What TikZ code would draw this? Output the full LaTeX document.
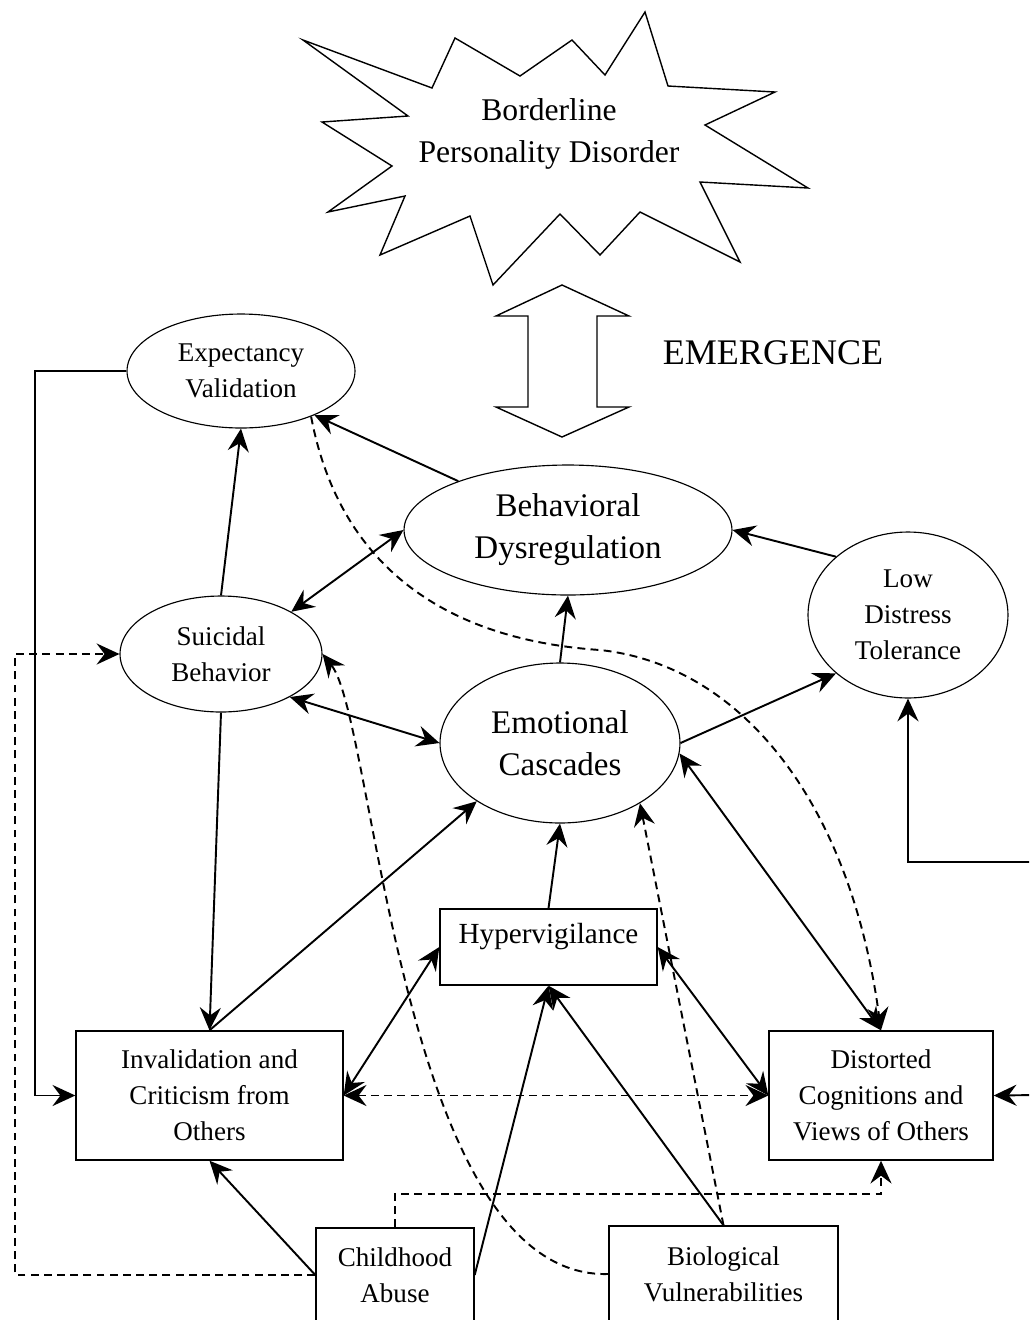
\documentclass[tikz,border=0pt]{standalone}
\usepackage{fontspec}
\setmainfont{Liberation Serif}
\usetikzlibrary{calc,positioning,arrows.meta,shapes.geometric}
\tikzset{
>={Stealth[length=13pt,width=12pt,inset=4.5pt]},
  oval/.style={
    ellipse,
    draw=black, line width=0.65pt,
    inner sep=0pt,
    align=center,
    font=\fontsize{15.4}{20.4}\selectfont},
  bigoval/.style={oval, font=\fontsize{18.8}{23.8}\selectfont},
  punkt/.style={
    rectangle,
    draw=black, line width=0.8pt,
    inner sep=2pt,
    align=center,
    font=\fontsize{15.4}{20.4}\selectfont},
  line/.style={draw, line width=1.1pt},
  dline/.style={line, dash pattern=on 4.5pt off 3pt},
}

\begin{document}
\begin{tikzpicture}[x=0.02cm, y=-0.02cm]
  \useasboundingbox (0,0) rectangle (1029,1320);
  \clip (0,0) rectangle (1029,1320);
  % the disorder itself, on top
  \draw[line width=0.8pt] (303,40) -- (432,88) -- (455,38) -- (520,76)
    -- (572,40) -- (605,75) -- (645,12) -- (668,86) -- (775,92)
    -- (705,125) -- (808,188) -- (700,182) -- (740,262) -- (640,212)
    -- (600,255) -- (560,214) -- (493,285) -- (470,216) -- (380,255)
    -- (405,196) -- (328,212) -- (392,166) -- (322,122) -- (408,116)
    -- cycle;
  \node[font=\fontsize{18}{23.8}\selectfont, align=center] (bpd) at (549,134)
    {Borderline\\Personality Disorder};
  % emergence arrow
  \draw[line width=0.8pt] (562,285) -- (629,316) -- (597,316) -- (597,407)
    -- (629,407) -- (562,437) -- (496,407) -- (528,407) -- (528,316)
    -- (496,316) -- cycle;
  \node[font=\fontsize{20.5}{24}\selectfont] (emerg) at (773,353) {EMERGENCE};

  % ovals
  \node[oval, minimum width=4.56cm, minimum height=2.28cm] (exp) at (241,371)
    {Expectancy\\Validation};
  \node[bigoval, minimum width=6.56cm, minimum height=2.6cm] (beh) at (568,530)
    {Behavioral\\Dysregulation};
  \node[oval, minimum width=4cm, minimum height=3.32cm] (low) at (908,615)
    {Low\\Distress\\Tolerance};
  \node[oval, minimum width=4.04cm, minimum height=2.32cm] (sui) at (221,654)
    {Suicidal\\Behavior};
  \node[bigoval, minimum width=4.8cm, minimum height=3.2cm] (emo) at (560,743)
    {Emotional\\Cascades};
  % boxes
  \node[punkt, font=\fontsize{16.6}{20.4}\selectfont, text height=11.5pt,
    text depth=15pt, minimum width=4.34cm, minimum height=1.52cm] (hyp)
    at (548.5,947) {Hypervigilance};
  \node[punkt, minimum width=5.34cm, minimum height=2.58cm] (inv) at (209.5,1095.5)
    {Invalidation and\\Criticism from\\Others};
  \node[punkt, minimum width=4.48cm, minimum height=2.58cm] (dis) at (881,1095.5)
    {Distorted\\Cognitions and\\Views of Others};
  \node[punkt, minimum width=3.16cm, minimum height=1.88cm] (ch) at (395,1275)
    {Childhood\\Abuse};
  \node[punkt, minimum width=4.58cm, minimum height=1.92cm] (bio) at (723.5,1274)
    {Biological\\Vulnerabilities};

  % corners of the elbow lines
  \coordinate (lft) at (35,371);
  \coordinate (rtop) at (1040,862);
  \coordinate (rbot) at (1040,1095);
  \coordinate (dl) at (15,1275);
  \coordinate (dtop) at (395,1194);
  \coordinate (bend) at (600,650);

  % solid links
  \draw[line,->] (exp.west) -- (lft) |- (inv.west);
  \draw[line,->] (rtop) -| (low.south);
  \draw[line,->] (rbot) -- (dis.east);
  \draw[line,->] (beh.156) -- (exp.-31);
  \draw[line,->] (low.141) -- (beh.east);
  \draw[line,->] (sui.north) -- (exp.south);
  \draw[line,<->] (sui.31) -- (beh.west);
  \draw[line,->] (emo.north) -- (beh.south);
  \draw[line,<->] (sui.-32) -- (emo.west);
  \draw[line,->] (emo.east) -- (low.219);
  \draw[line,->] (sui.south) -- (inv.north);
  \draw[line,->] (inv.north) -- (emo.215);
  \draw[line,->] (hyp.north) -- (emo.south);
  \draw[line,<->] (inv.east) -- (hyp.west);
  \draw[line,<->] (emo.-5) -- (dis.north);
  \draw[line,<->] (hyp.east) -- (dis.west);
  \draw[line,->] (ch.west) -- (inv.south);
  \draw[line,->] (ch.east) -- (hyp.south);
  \draw[line,->] (bio.north) -- (hyp.south);

  % dashed links
  \draw[dline,<->] (inv.east) -- (dis.west);
  \draw[dline,->] (ch.west) -- (dl) |- (sui.west);
  \draw[dline,->] (ch.north) -- (dtop) -| (dis.south);
  \draw[dline,->] (bio.west) .. controls (400,1280) and (375,720) .. (sui.east);
  \draw[dline,->] (bio.north) -- (emo.-37);
  \draw[dline,->] (exp.-33) .. controls (340,570) and (450,640) .. (bend)
    .. controls (740,665) and (850,800) .. (dis.north);
\end{tikzpicture}
\end{document}
